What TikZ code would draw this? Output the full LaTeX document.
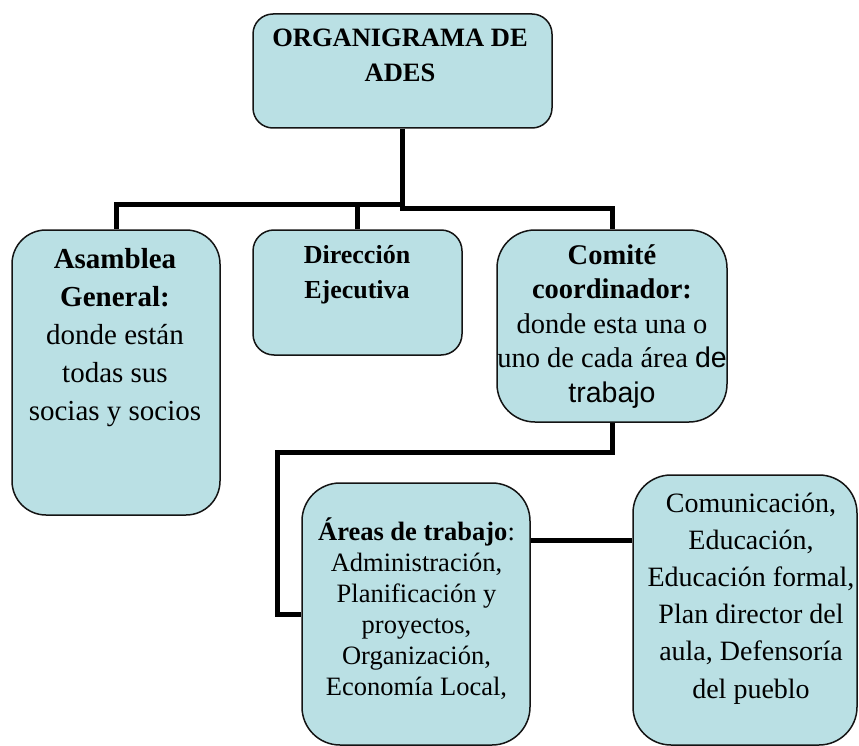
\documentclass[tikz,border=0pt]{standalone}
\usepackage{fontspec}
\setmainfont{Liberation Serif}
\newfontfamily\arialfont{Liberation Sans}
\pgfdeclarelayer{background}
\pgfsetlayers{background,main}
\definecolor{boxblue}{RGB}{186,224,228}
\definecolor{boxline}{RGB}{20,20,20}
\tikzstyle{orgbox}=[draw=boxline,line width=1.5pt,fill=boxblue,inner sep=0pt]
\tikzstyle{orgtext}=[align=center,inner sep=0pt,anchor=base]
\tikzstyle{link} = [draw,line width=5pt,-]

\begin{document}
\begin{tikzpicture}[x=1pt,y=-1pt]
    \useasboundingbox (0,0) rectangle (859,746);
    % First we draw the boxes
    \foreach \pos/\name/\w/\h/\r in {{(402.5,71)/ades/299/114/20}, {(116,372.5)/asamblea/208/285/34}, {(357.5,292.5)/direccion/209/125/21}, {(612,326)/comite/230/192/38}, {(416,614)/areas/228/262/38}, {(745,610)/comunic/224/270/38}}
        \node[orgbox, minimum width=\w pt, minimum height=\h pt, rounded corners=\r pt] (\name) at \pos {};

    % Then the texts inside them (placed at the baseline of their last line)
    \node[orgtext, font=\fontsize{26.5}{35}\selectfont\bfseries] (adestxt) at (400,82) {ORGANIGRAMA DE\\ADES};
    \node[orgtext, font=\fontsize{29}{38}\selectfont] (asambleatxt) at (115,420) {\textbf{Asamblea}\\\textbf{General:}\\donde están\\todas sus\\socias y socios};
    \node[orgtext, font=\fontsize{26}{35}\selectfont\bfseries] (direcciontxt) at (357,298) {Dirección\\Ejecutiva};
    \node[orgtext, font=\fontsize{28.5}{34.5}\selectfont] (comitetxt) at (612,402) {\textbf{Comité}\\\textbf{coordinador:}\\donde esta una o\\uno de cada área {\arialfont de}\\{\arialfont trabajo}};
    \node[orgtext, font=\fontsize{26.5}{31}\selectfont] (areastxt) at (416.5,695) {\textbf{Áreas de trabajo}:\\Administración,\\Planificación y\\proyectos,\\Organización,\\Economía Local,};
    \node[orgtext, font=\fontsize{28}{37.2}\selectfont] (comunictxt) at (751,698) {Comunicación,\\Educación,\\Educación formal,\\Plan director del\\aula, Defensoría\\del pueblo};

    % Connect boxes with thick lines
    \coordinate (tie) at (0,540);
    \begin{pgfonlayer}{background}
        \path[link] (ades.south) -- ++(0,76) -| (asamblea.north);
        \path[link] (ades.south) -- ++(0,80) -| (comite.north);
        \path[link] (direccion.north) -- ++(0,-26);
        \path[link] (comite.south) -- ++(0,30) -- ++(-335,0) |- (areas.west);
        \path[link] (areas.east |- tie) -- (comunic.west |- tie);
    \end{pgfonlayer}
\end{tikzpicture}
\end{document}
